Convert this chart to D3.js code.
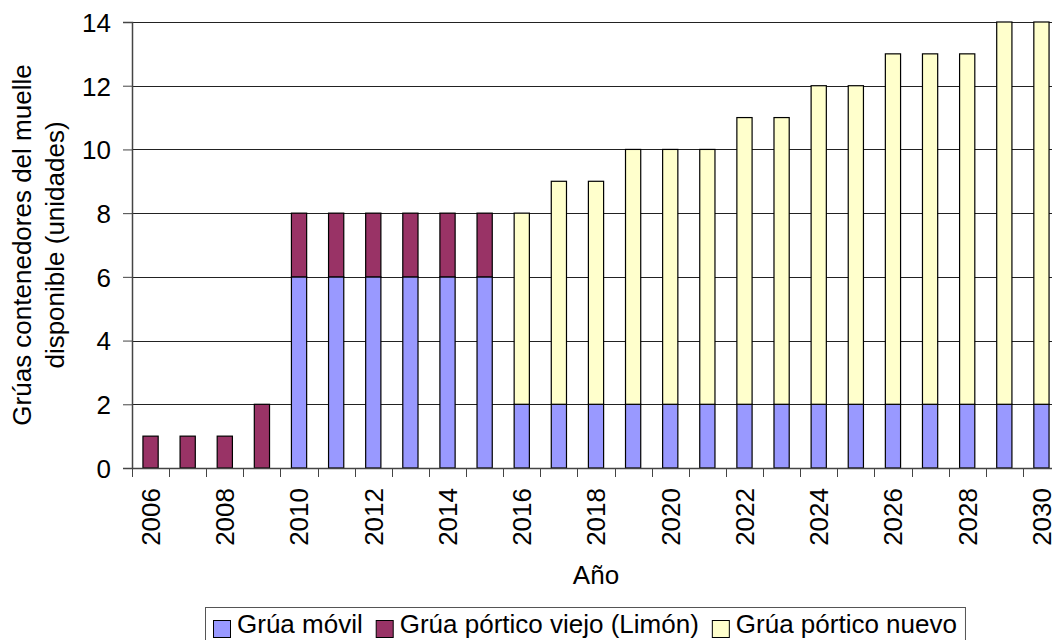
<!DOCTYPE html>
<html>
<head>
<meta charset="utf-8">
<script src="https://cdn.jsdelivr.net/npm/d3@7"></script>
<style>
  body { margin: 0; background: #fff; }
  svg text { font-family: "Liberation Sans", Arial, sans-serif; fill: #000; }
</style>
</head>
<body>
<div id="chart"></div>
<script>
// data
const years = [2006, 2007, 2008, 2009, 2010, 2011, 2012, 2013, 2014, 2015, 2016, 2017, 2018,
  2019, 2020, 2021, 2022, 2023, 2024, 2025, 2026, 2027, 2028, 2029, 2030];
const gruaMovil = [0, 0, 0, 0, 6, 6, 6, 6, 6, 6, 2, 2, 2, 2, 2, 2, 2, 2, 2, 2, 2, 2, 2, 2, 2];
const porticoViejo = [1, 1, 1, 2, 2, 2, 2, 2, 2, 2, 0, 0, 0, 0, 0, 0, 0, 0, 0, 0, 0, 0, 0, 0, 0];
const porticoNuevo = [0, 0, 0, 0, 0, 0, 0, 0, 0, 0, 6, 7, 7, 8, 8, 8, 9, 9, 10, 10, 11, 11, 11, 12, 12];
const seriesNames = ["Grúa móvil", "Grúa pórtico viejo (Limón)", "Grúa pórtico nuevo"];
const seriesColors = ["#9999ff", "#993366", "#ffffcc"];
const yTicks = [0, 2, 4, 6, 8, 10, 12, 14];

const width = 1052, height = 640;
const plotLeft = 132, plotRight = 1060, plotTop = 22, plotBottom = 468;

const svg = d3.select("#chart").append("svg")
    .attr("width", width)
    .attr("height", height);

// build rows for the stack
const keys = ["movil", "viejo", "nuevo"];
const rows = years.map((yr, i) => ({ year: yr, movil: gruaMovil[i], viejo: porticoViejo[i], nuevo: porticoNuevo[i] }));
const stacked = d3.stack().keys(keys)(rows);

const x = d3.scaleBand()
    .domain(years)
    .range([plotLeft, plotRight])
    .paddingInner(0.59)
    .paddingOuter(0.295);

// plain band scale for category boundaries (tick marks)
const xCat = d3.scaleBand().domain(years).range([plotLeft, plotRight]).padding(0);

const y = d3.scaleLinear().domain([0, 14]).range([plotBottom, plotTop]);

// gridlines
svg.append("g")
    .selectAll("line")
    .data(yTicks)
    .join("line")
    .attr("x1", plotLeft).attr("x2", plotRight)
    .attr("y1", d => Math.round(y(d)) + 0.5)
    .attr("y2", d => Math.round(y(d)) + 0.5)
    .attr("stroke", "#222")
    .attr("stroke-width", 1);

// bars
svg.append("g")
    .selectAll("g")
    .data(stacked)
    .join("g")
    .attr("fill", (d, i) => seriesColors[i])
    .selectAll("rect")
    .data(d => d.filter(s => s[1] > s[0]))
    .join("rect")
    .attr("x", d => x(d.data.year))
    .attr("width", x.bandwidth())
    .attr("y", d => y(d[1]))
    .attr("height", d => y(d[0]) - y(d[1]))
    .attr("stroke", "#000")
    .attr("stroke-width", 1.2);

// y axis
const yAxis = svg.append("g")
    .attr("transform", `translate(${plotLeft},0)`)
    .call(d3.axisLeft(y).tickValues(yTicks).tickSize(9).tickPadding(12).tickFormat(d3.format("d")));
yAxis.select(".domain").attr("stroke", "#444").attr("stroke-width", 1.5);
yAxis.selectAll(".tick line").attr("stroke", "#444");
yAxis.selectAll(".tick text")
    .style("font-size", "26px")
    .attr("dy", "0.36em");

// x axis line and tick marks between categories
svg.append("line")
    .attr("x1", plotLeft).attr("x2", plotRight)
    .attr("y1", plotBottom + 0.5).attr("y2", plotBottom + 0.5)
    .attr("stroke", "#444").attr("stroke-width", 1.5);

const bounds = years.map(d => xCat(d)).concat([plotRight]);
svg.append("g")
    .selectAll("line")
    .data(bounds)
    .join("line")
    .attr("x1", d => Math.round(d) + 0.5).attr("x2", d => Math.round(d) + 0.5)
    .attr("y1", plotBottom).attr("y2", plotBottom + 9)
    .attr("stroke", "#444");

// x tick labels, every other year, rotated
svg.append("g")
    .selectAll("text")
    .data(years.filter(d => d % 2 === 0))
    .join("text")
    .attr("transform", d => `translate(${xCat(d) + xCat.bandwidth() / 2},488) rotate(-90)`)
    .attr("text-anchor", "end")
    .attr("dy", "0.36em")
    .style("font-size", "26px")
    .text(d => d);

// axis titles
svg.append("text")
    .attr("x", (plotLeft + plotRight) / 2)
    .attr("y", 584)
    .attr("text-anchor", "middle")
    .style("font-size", "26px")
    .text("Año");

const yTitle = svg.append("text")
    .attr("transform", `translate(0,${(plotTop + plotBottom) / 2}) rotate(-90)`)
    .attr("text-anchor", "middle")
    .style("font-size", "26px");
yTitle.append("tspan").attr("x", 0).attr("y", 31).text("Grúas contenedores del muelle");
yTitle.append("tspan").attr("x", 0).attr("y", 64).text("disponible (unidades)");

// legend
const legend = svg.append("g");
const legendBox = legend.append("rect")
    .attr("x", 205.5).attr("y", 607.5)
    .attr("height", 60)
    .attr("fill", "#fff")
    .attr("stroke", "#555");

let lx = 213;
seriesNames.forEach((name, i) => {
  legend.append("rect")
      .attr("x", lx + 0.5).attr("y", 620.5)
      .attr("width", 17).attr("height", 17)
      .attr("fill", seriesColors[i])
      .attr("stroke", "#000");
  const t = legend.append("text")
      .attr("x", lx + 24)
      .attr("y", 633)
      .style("font-size", "26px")
      .text(name);
  lx += 24 + t.node().getComputedTextLength() + 13;
});
legendBox.attr("width", lx - 205 - 5);
</script>
</body>
</html>
